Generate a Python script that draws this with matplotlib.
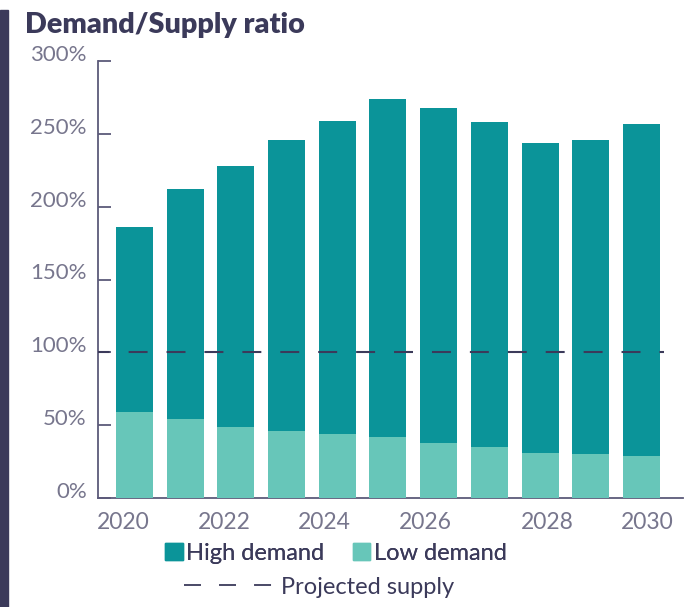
import matplotlib
matplotlib.use('Agg')
import matplotlib.pyplot as plt
import matplotlib.transforms as mtransforms
from matplotlib.patches import Patch, Rectangle
from matplotlib.lines import Line2D

years = [2020, 2021, 2022, 2023, 2024, 2025, 2026, 2027, 2028, 2029, 2030]
high_demand = [186, 212, 228, 246, 259, 274, 268, 258, 244, 246, 257]
low_demand = [59, 54, 49, 46, 44, 42, 38, 35, 31, 30, 29]
projected_supply = 100
year_ticks = [2020, 2022, 2024, 2026, 2028, 2030]
pct_ticks = [0, 50, 100, 150, 200, 250, 300]

HIGH = '#0b9499'
LOW = '#67c6b9'
NAVY = '#3b3a5a'
GREY = '#77768d'

plt.rcParams['font.family'] = ['Lato', 'DejaVu Sans']

fig = plt.figure(figsize=(6.85, 6.07), dpi=100)
W, H = 685, 607
ax = fig.add_axes([98 / W, 1 - 498 / H, (683 - 98) / W, (498 - 61) / H])

# high demand is drawn behind, low demand in front
ax.bar(years, high_demand, width=0.73, color=HIGH, zorder=2)
ax.bar(years, low_demand, width=0.73, color=LOW, zorder=3)

lw = 1.5
ax.axhline(projected_supply, xmin=0, xmax=(664 - 98) / 585, color=NAVY, lw=lw,
           linestyle=(3.5, (9.1, 9.1)), zorder=4)

ax.set_xlim(2019.28, 2030.82)
ax.set_ylim(0, 300)
ax.set_yticks(pct_ticks)
ax.set_yticklabels([f'{p}%' for p in pct_ticks])
ax.set_xticks(year_ticks)
ax.set_xticklabels([str(y) for y in year_ticks])

for s in ['top', 'right']:
    ax.spines[s].set_visible(False)
for s in ['left', 'bottom']:
    ax.spines[s].set_color('#5c5a7a')
    ax.spines[s].set_linewidth(1.3)

ax.tick_params(axis='y', direction='in', length=9.5, width=1.3, color='#5c5a7a',
               pad=8, labelsize=16, labelcolor=GREY)
ax.tick_params(axis='x', length=0, pad=10, labelsize=16.5, labelcolor=GREY)
for lab in ax.get_yticklabels():
    lab.set_verticalalignment('baseline')

# year labels in the original sit a little off their bars
shifts = [-11, -12, -12.5, -13.5, 7, 6]
for lab, dx in zip(ax.get_xticklabels(), shifts):
    lab.set_transform(lab.get_transform() + mtransforms.ScaledTranslation(dx / 100, 0, fig.dpi_scale_trans))

fig.text(25 / W, 1 - 33 / H, 'Demand/Supply ratio', fontsize=20.7, fontweight='heavy',
         color=NAVY, va='baseline', ha='left')
fig.patches.append(Rectangle((0, 0), 8 / W, 1 - 10 / H, transform=fig.transFigure,
                             color=NAVY, zorder=0))

h1 = [Patch(color=HIGH), Patch(color=LOW)]
leg1 = fig.legend(h1, ['High demand', 'Low demand'], loc='center',
                  bbox_to_anchor=(336 / W, 1 - 553 / H), ncol=2, frameon=False,
                  fontsize=17, handlelength=0.75, handleheight=0.75,
                  handletextpad=0.15, columnspacing=1.2, labelcolor=NAVY,
                  borderpad=0, borderaxespad=0)
h2 = [Line2D([0], [0], color=NAVY, lw=1.3, linestyle=(0, (9.4, 10)))]
leg2 = fig.legend(h2, ['Projected supply'], loc='center',
                  bbox_to_anchor=(319 / W, 1 - 587 / H), frameon=False,
                  fontsize=17, handlelength=3.8, handletextpad=0.3,
                  labelcolor=NAVY, borderpad=0, borderaxespad=0)
fig.add_artist(leg1)

fig.savefig('out.png', dpi=100)
